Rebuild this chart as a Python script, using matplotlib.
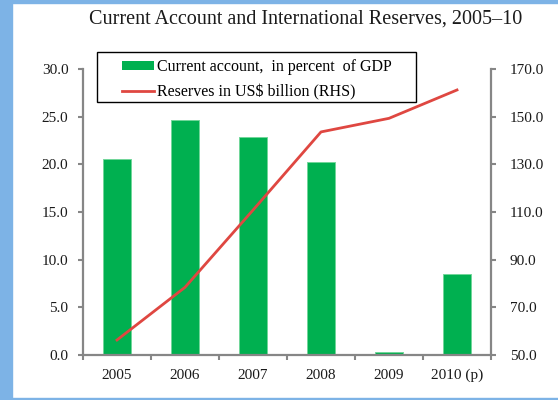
import numpy as np
import matplotlib
matplotlib.use("Agg")
import matplotlib.pyplot as plt
from matplotlib.patches import Rectangle, Patch
from matplotlib.lines import Line2D
from matplotlib.ticker import FormatStrFormatter, FixedLocator

plt.rcParams['font.family'] = ['Liberation Serif', 'DejaVu Serif']

years = ['2005', '2006', '2007', '2008', '2009', '2010 (p)']
current_account = [20.6, 24.7, 22.9, 20.2, 0.3, 8.5]   # % of GDP
reserves = [56.3, 78.4, 110.8, 143.6, 149.3, 161.2]     # US$ billion

green = '#00B050'
red = '#DF4741'
grey = '#868686'

fig = plt.figure(figsize=(5.58, 4.0), dpi=100)
fig.patch.set_facecolor('white')

# light blue page frame
blue = '#7DB3E6'
fig.patches.append(Rectangle((0, 0), 12 / 558, 1, transform=fig.transFigure,
                             color=blue, zorder=0))
fig.patches.append(Rectangle((0, 1 - 3 / 400), 1, 3 / 400, transform=fig.transFigure,
                             color=blue, zorder=0))
fig.patches.append(Rectangle((0, 0), 1, 2 / 400, transform=fig.transFigure,
                             color=blue, zorder=0))

ax = fig.add_axes([83 / 558, 45 / 400, 408 / 558, 286 / 400])
ax.set_facecolor('none')
x = np.arange(len(years))
ax.bar(x, current_account, width=0.41, color=green, edgecolor='#72D69A',
       linewidth=0.7, zorder=2)
ax.set_xlim(-0.5, len(years) - 0.5)
ax.set_ylim(0, 30)
ax.set_yticks(np.arange(0, 30.1, 5))
ax.yaxis.set_major_formatter(FormatStrFormatter('%.1f'))
ax.set_xticks(x)
ax.set_xticklabels(years)
ax.xaxis.set_minor_locator(FixedLocator(np.arange(-0.5, len(years), 1.0)))

ax2 = ax.twinx()
ax2.plot(x, reserves, color=red, linewidth=2, zorder=3)
ax2.set_ylim(50, 170)
ax2.set_yticks(np.arange(50, 170.1, 20))
ax2.yaxis.set_major_formatter(FormatStrFormatter('%.1f'))

for a in (ax, ax2):
    for s in a.spines.values():
        s.set_visible(False)
ax.spines['left'].set_visible(True)
ax.spines['bottom'].set_visible(True)
ax2.spines['right'].set_visible(True)
for s in (ax.spines['left'], ax.spines['bottom'], ax2.spines['right']):
    s.set_color(grey)
    s.set_linewidth(1.6)

ax.tick_params(axis='y', direction='out', length=3.5, width=1.5, color=grey,
               pad=7, labelsize=11, labelcolor='#1a1a1a')
ax2.tick_params(axis='y', direction='out', length=3.5, width=1.5, color=grey,
                pad=10, labelsize=11, labelcolor='#1a1a1a')
ax.tick_params(axis='x', which='major', length=0, pad=10, labelsize=11,
               labelcolor='#1a1a1a')
ax.tick_params(axis='x', which='minor', direction='out', length=3.5, width=1.5,
               color=grey)

fig.text(306 / 558, 1 - 19 / 400, 'Current Account and International Reserves, 2005\u201310',
         ha='center', va='center', fontsize=14.5, color='#1a1a1a')

# legend frame drawn by hand, entries placed inside it
fig.patches.append(Rectangle((97 / 558, 1 - 102 / 400), 319 / 558, 50 / 400,
                             transform=fig.transFigure, facecolor='white',
                             edgecolor='black', linewidth=1.0, zorder=5))
handles = [Patch(facecolor=green, edgecolor='none'),
           Line2D([], [], color=red, linewidth=2)]
labels = ['Current account,  in percent  of GDP', 'Reserves in US$ billion (RHS)']
leg = fig.legend(handles, labels, loc='upper left',
                 bbox_to_anchor=(122 / 558, 1 - 59 / 400), frameon=False,
                 fontsize=11.5, borderpad=0, borderaxespad=0, handlelength=2.0,
                 handleheight=0.45, handletextpad=0.2, labelspacing=0.58)
leg.set_zorder(6)

fig.savefig('out.png', dpi=100, facecolor=fig.get_facecolor())
